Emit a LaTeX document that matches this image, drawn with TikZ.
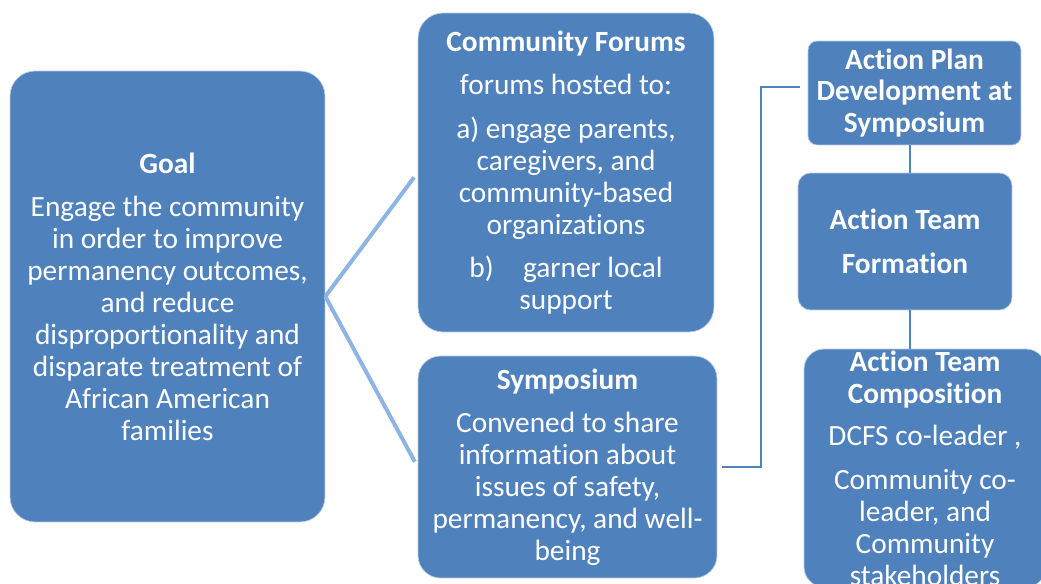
\documentclass[tikz,border=0pt]{standalone}
\usepackage{fontspec}
\setmainfont{Carlito}[RawFeature={-liga;-clig;-calt}]
\usetikzlibrary{calc}
\usetikzlibrary{positioning}
\definecolor{boxblue}{HTML}{4F81BD}
\definecolor{linkblue}{HTML}{8DB4E3}

\begin{document}
\begin{tikzpicture}[x=0.02cm,y=-0.02cm,
    box/.style={fill=boxblue,draw=white!60!boxblue,thin,text=white,
      align=center,inner sep=0pt,font=\fontsize{16.7}{18.2}\selectfont},
    link/.style={draw=linkblue,line width=0.08cm},
    elbow/.style={draw=boxblue,line width=0.035cm}]
  \useasboundingbox (0,0) rectangle (1041,584);
  \clip (0,0) rectangle (1041,584);
  \node[box,minimum width=6.3cm,minimum height=9.02cm,rounded corners=0.5cm]
    (goal) at (167.5,296.5) {\textbf{Goal}\\[6.5pt]
      Engage the community\\ in order to improve\\ permanency outcomes,\\
      and reduce\\ disproportionality and\\ disparate treatment of\\
      African American\\ families};
  \node[box,minimum width=5.92cm,minimum height=6.38cm,rounded corners=0.5cm]
    (forums) at (566,172.5) {\textbf{Community Forums}\\[6.5pt]
      forums hosted to:\\[6.5pt]
      a) engage parents,\\ caregivers, and\\ community-based\\ organizations\\[6.5pt]
      b)\quad garner local\\ support};
  \node[box,minimum width=5.98cm,minimum height=4.44cm,rounded corners=0.45cm]
    (symp) at (567.5,467) {\textbf{Symposium}\\[6.5pt]
      Convened to share\\ information about\\ issues of safety,\\
      permanency, and well-\\ being};
  \node[box,minimum width=4.26cm,minimum height=2.08cm,rounded corners=0.18cm]
    (plan) at (914.5,93) {\textbf{Action Plan}\\ \textbf{Development at}\\
      \textbf{Symposium}};
  \node[box,minimum width=4.28cm,minimum height=2.74cm,rounded corners=0.25cm]
    (form) at (905,241.5) {\textbf{Action Team}\\[6.5pt] \textbf{Formation}};
  \node[box,minimum width=4.84cm,minimum height=4.76cm,rounded corners=0.4cm]
    (comp) at (925,468) {\textbf{Action Team}\\ \textbf{Composition}\\[6pt]
      DCFS co-leader ,\\[6.5pt] Community co-\\ leader, and\\ Community\\
      stakeholders};

  \coordinate (spine) at (910,0);
  \draw[link,shorten >=0.12cm] (goal.east) -- (forums.west);
  \draw[link,shorten >=0.12cm] (goal.east) -- (symp.west);
  \draw[elbow,shorten <=0.1cm,shorten >=0.16cm] (symp.east) -- ++(44,0)
    |- ([yshift=0.12cm]plan.west);
  \draw[elbow] (spine |- plan.south) -- (spine |- form.north);
  \draw[elbow] (spine |- form.south) -- (spine |- comp.north);
\end{tikzpicture}
\end{document}
